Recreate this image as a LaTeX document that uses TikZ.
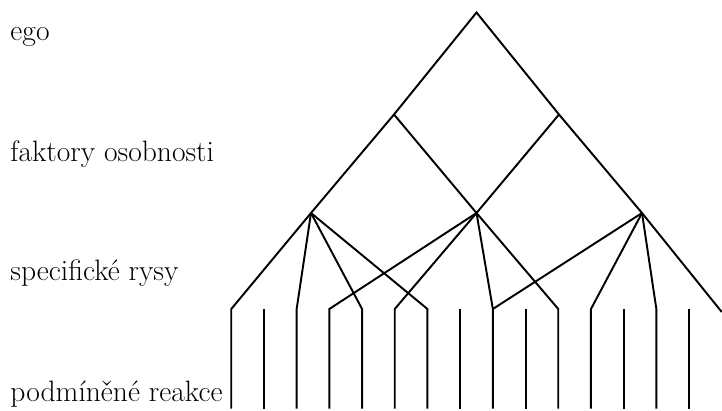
\documentclass[tikz,border=0pt]{standalone}
\usepackage{fontspec}
\usepackage{tikz}
\usetikzlibrary{positioning}

\begin{document}
\begin{tikzpicture}[line width=1.1pt,
  level/.style={anchor=base west, inner sep=0pt, font=\fontsize{16.8}{20}\selectfont}]
  \useasboundingbox (0,0) rectangle (14.44,8.2);
  \node[level] (lego) at (0.19,7.39) {ego};
  \node[level] (lfaktory) at (0.19,4.97) {faktory osobnosti};
  \node[level] (lrysy) at (0.19,2.59) {specifické rysy};
  \node[level] (lreakce) at (0.19,0.17) {podmíněné reakce};
  \coordinate (ego) at (9.53,7.95);
  \coordinate (f1) at (7.88,5.91);
  \coordinate (f2) at (11.18,5.91);
  \coordinate (t1) at (6.22,3.94);
  \coordinate (t2) at (9.53,3.94);
  \coordinate (t3) at (12.84,3.94);
  \coordinate (r1) at (4.625,2.02);
  \coordinate (r2) at (5.279,2.02);
  \coordinate (r3) at (5.933,2.02);
  \coordinate (r4) at (6.587,2.02);
  \coordinate (r5) at (7.241,2.02);
  \coordinate (r6) at (7.895,2.02);
  \coordinate (r7) at (8.549,2.02);
  \coordinate (r8) at (9.203,2.02);
  \coordinate (r9) at (9.857,2.02);
  \coordinate (r10) at (10.511,2.02);
  \coordinate (r11) at (11.165,2.02);
  \coordinate (r12) at (11.819,2.02);
  \coordinate (r13) at (12.473,2.02);
  \coordinate (r14) at (13.127,2.02);
  \coordinate (r15) at (13.781,2.02);
  \coordinate (r16) at (14.435,1.96);
  \coordinate (floor) at (0,0.03);
  \draw (r1 |- floor) -- (r1) -- (t1) -- (f1) -- (ego) -- (f2) -- (t3) -- (r16);
  \draw (f1) -- (t2) -- (f2);
  \draw (t1) -- (r3) -- (r3 |- floor);
  \draw (t1) -- (r5) -- (r5 |- floor);
  \draw (t1) -- (r7) -- (r7 |- floor);
  \draw (t2) -- (r4) -- (r4 |- floor);
  \draw (t2) -- (r6) -- (r6 |- floor);
  \draw (t2) -- (r9) -- (r9 |- floor);
  \draw (t2) -- (r11) -- (r11 |- floor);
  \draw (t3) -- (r9);
  \draw (t3) -- (r12) -- (r12 |- floor);
  \draw (t3) -- (r14) -- (r14 |- floor);
  \draw (r2) -- (r2 |- floor);
  \draw (r8) -- (r8 |- floor);
  \draw (r10) -- (r10 |- floor);
  \draw (r13) -- (r13 |- floor);
  \draw (r15) -- (r15 |- floor);
\end{tikzpicture}
\end{document}
